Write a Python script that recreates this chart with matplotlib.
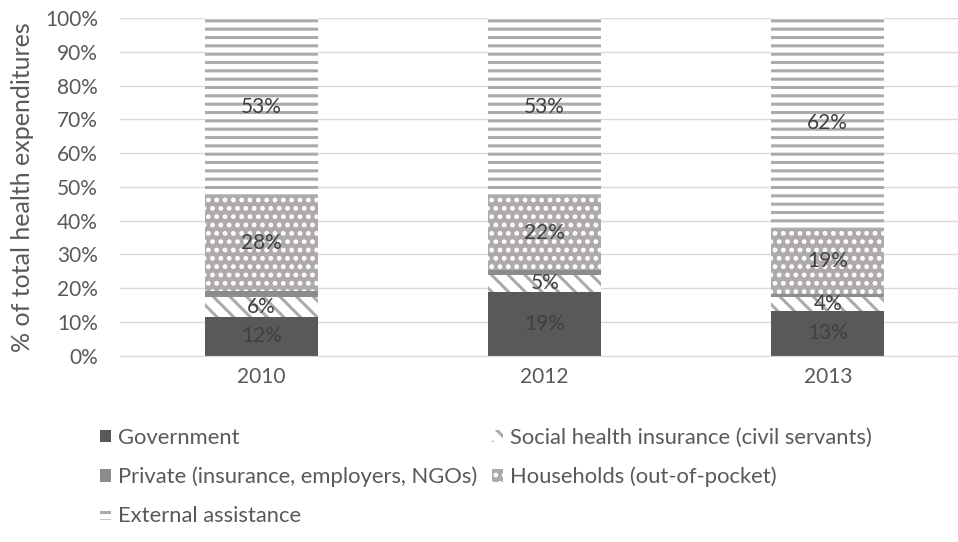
import matplotlib
matplotlib.use("Agg")
from matplotlib import pyplot as plt
from matplotlib.ticker import PercentFormatter

# data (% of total health expenditures)
years = ["2010", "2012", "2013"]
government = [11.6, 19.0, 13.2]
social_insurance = [5.9, 4.9, 4.3]
private = [1.8, 1.5, 0.8]
households = [28.1, 22.0, 19.4]
external = [52.6, 52.6, 62.3]

series_names = [
    "Government",
    "Social health insurance (civil servants)",
    "Private (insurance, employers, NGOs)",
    "Households (out-of-pocket)",
    "External assistance",
]
show_labels = [True, True, False, True, True]

plt.rcParams['font.family'] = ['Lato', 'DejaVu Sans']
plt.rcParams['hatch.linewidth'] = 2.2

TEXT = "#595959"
STRIPE = "#aeaaaa"
FS = 15

# (facecolor, hatch colour, hatch)
styles = [
    ("#595959", "#595959", None),
    ("white", STRIPE, "\\\\"),
    ("#8c8c8c", "#8c8c8c", None),
    (STRIPE, "white", ".."),
    ("white", STRIPE, "--"),
]

fig = plt.figure(figsize=(9.58, 5.42), dpi=100)
ax = fig.add_axes([0.1253, 0.3437, 0.8747, 0.623])

x = list(range(len(years)))
bottom = [0.0] * len(years)
handles = []
for name, vals, (fc, hc, hatch), lab in zip(
        series_names, [government, social_insurance, private, households, external],
        styles, show_labels):
    bars = ax.bar(x, vals, width=0.4, bottom=bottom, color=fc, edgecolor=hc,
                  hatch=hatch, linewidth=0, label=name, zorder=2)
    handles.append(bars)
    if lab:
        ax.bar_label(bars, labels=[f"{v:.0f}%" for v in vals], label_type="center",
                     color="#404040", fontsize=FS)
    bottom = [b + v for b, v in zip(bottom, vals)]

ax.set_xlim(-0.5, 2.46)
ax.set_ylim(0, 100)
ax.set_yticks(range(0, 101, 10))
ax.yaxis.set_major_formatter(PercentFormatter(decimals=0))
ax.set_xticks(x)
ax.set_xticklabels(years)
ax.tick_params(length=0, labelsize=FS, colors=TEXT, pad=8)
ax.tick_params(axis="y", pad=16)
ax.grid(axis="y", color="#d9d9d9", linewidth=1, zorder=0)
for side in ["top", "right", "left"]:
    ax.spines[side].set_visible(False)
ax.spines["bottom"].set_color("#d9d9d9")
ax.set_ylabel("% of total health expenditures", fontsize=18, color=TEXT, labelpad=8)

# legend filled column-wise: left column Gov/Private/External, right SHI/Households
order = [0, 2, 4, 1, 3]
fig.legend([handles[i] for i in order], [series_names[i] for i in order],
           loc="upper left", bbox_to_anchor=(100 / 958, 1 - 428 / 542), ncol=2,
           frameon=False, borderpad=0, borderaxespad=0, fontsize=15.8,
           labelcolor=TEXT, handlelength=0.5, handleheight=0.5, handletextpad=0.3,
           labelspacing=0.85, columnspacing=0.7)

fig.savefig("out.png", dpi=100)
